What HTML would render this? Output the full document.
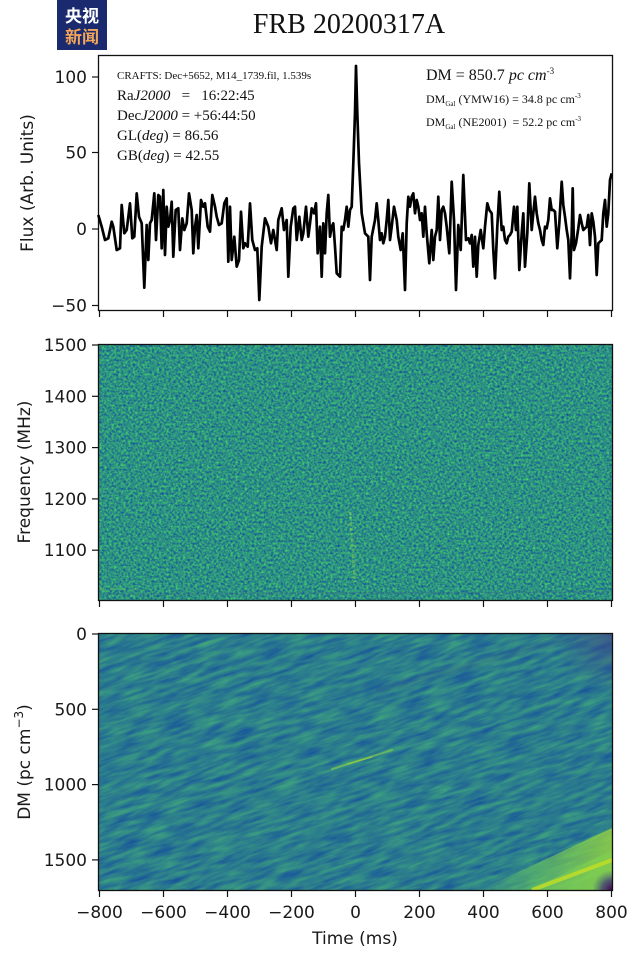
<!DOCTYPE html>
<html><head><meta charset="utf-8"><style>
html,body{margin:0;padding:0;background:#fff;width:640px;height:957px;overflow:hidden;}
svg{display:block;}
.t{font-family:"DejaVu Sans","Liberation Sans",sans-serif;font-size:17px;fill:#1a1a1a;}
.s{font-family:"Liberation Serif","DejaVu Serif",serif;fill:#111;white-space:pre;}
</style></head><body>
<svg width="640" height="957" viewBox="0 0 640 957" xmlns="http://www.w3.org/2000/svg" overflow="hidden">
<defs>
  <filter id="f2" x="0" y="0" width="100%" height="100%" color-interpolation-filters="sRGB">
    <feTurbulence type="fractalNoise" baseFrequency="0.42" numOctaves="2" seed="7" result="n"/>
    <feColorMatrix in="n" type="matrix" values="0.3 0 0 0 0.025  0.75 0 0 0 0.195  -0.3 0 0 0 0.66  0 0 0 0 1"/>
  </filter>
  <filter id="f3" x="0" y="0" width="100%" height="100%" color-interpolation-filters="sRGB">
    <feTurbulence type="fractalNoise" baseFrequency="0.035 0.22" numOctaves="3" seed="3" result="n"/>
    <feColorMatrix in="n" type="matrix" values="0.2 0 0 0 0.07  0.4 0 0 0 0.29  -0.15 0 0 0 0.625  0 0 0 0 1"/>
  </filter>
  <pattern id="p3" patternUnits="userSpaceOnUse" x="-300" y="200" width="1300" height="1300" patternTransform="rotate(-19 355 762)">
    <rect x="-300" y="200" width="1300" height="1300" fill="#2a7b8e" filter="url(#f3)"/>
  </pattern>
  <clipPath id="c2"><rect x="99" y="345" width="513" height="255"/></clipPath>
  <clipPath id="c3"><rect x="99" y="634" width="513" height="256"/></clipPath>
  <linearGradient id="wedge" x1="0" y1="0" x2="1" y2="0">
    <stop offset="0" stop-color="#5ec962" stop-opacity="0.1"/>
    <stop offset="0.4" stop-color="#6ccd5a" stop-opacity="0.7"/>
    <stop offset="1" stop-color="#a0da39" stop-opacity="0.95"/>
  </linearGradient>
  <radialGradient id="corner" cx="612" cy="890" r="20" gradientUnits="userSpaceOnUse">
    <stop offset="0" stop-color="#440154"/>
    <stop offset="0.5" stop-color="#3b2a7a" stop-opacity="0.7"/>
    <stop offset="1" stop-color="#3b528b" stop-opacity="0"/>
  </radialGradient>
  <radialGradient id="corner2" cx="612" cy="634" r="60" gradientUnits="userSpaceOnUse">
    <stop offset="0" stop-color="#3e4a8a" stop-opacity="0.75"/>
    <stop offset="1" stop-color="#3b528b" stop-opacity="0"/>
  </radialGradient>
</defs>

<!-- Logo -->
<rect x="57" y="0" width="50" height="50" fill="#1b2a6e"/>
<text x="82" y="22" text-anchor="middle" font-family="'Noto Sans CJK SC','WenQuanYi Zen Hei',sans-serif" font-weight="bold" font-size="17" fill="#ffffff">央视</text>
<text x="82" y="43" text-anchor="middle" font-family="'Noto Sans CJK SC','WenQuanYi Zen Hei',sans-serif" font-weight="bold" font-size="17" fill="#f2a65a">新闻</text>

<!-- Title -->
<text x="349" y="33" text-anchor="middle" class="s" font-size="28">FRB 20200317A</text>

<!-- ===== Panel 1 ===== -->
<rect x="98.5" y="55.5" width="514" height="255" fill="#fff" stroke="#111" stroke-width="1.3"/>
<text class="s" x="117" y="79" font-size="11" xml:space="preserve">CRAFTS: Dec+5652, M14_1739.fil, 1.539s</text>
<text class="s" x="117" y="100" font-size="15" xml:space="preserve">Ra<tspan font-style="italic">J2000</tspan>   =   16:22:45</text>
<text class="s" x="117" y="120" font-size="15" xml:space="preserve">Dec<tspan font-style="italic">J2000</tspan> = +56:44:50</text>
<text class="s" x="117" y="140" font-size="15" xml:space="preserve">GL(<tspan font-style="italic">deg</tspan>) = 86.56</text>
<text class="s" x="117" y="160" font-size="15" xml:space="preserve">GB(<tspan font-style="italic">deg</tspan>) = 42.55</text>
<text class="s" x="426" y="80" font-size="16" xml:space="preserve">DM = 850.7 <tspan font-style="italic">pc cm</tspan><tspan font-size="9" dy="-6">-3</tspan></text>
<text class="s" x="426" y="103" font-size="12" xml:space="preserve">DM<tspan font-size="7" dy="3">Gal</tspan><tspan dy="-3"> (YMW16) = 34.8 pc cm</tspan><tspan font-size="7" dy="-5">-3</tspan></text>
<text class="s" x="426" y="126" font-size="12" xml:space="preserve">DM<tspan font-size="7" dy="3">Gal</tspan><tspan dy="-3"> (NE2001)  = 52.2 pc cm</tspan><tspan font-size="7" dy="-5">-3</tspan></text>

<polyline fill="none" stroke="#000" stroke-width="2.7" stroke-linejoin="round" points="
98.3,215 101.7,226.7 105,240 108.3,238.3 111.7,221.7 113.3,226.7 116.7,250 120,248.3 121.7,205 124.3,233.3 126.7,230 130,203.3 132.3,238.3 134.3,236.7 136.7,193.3 139,216.7 141.7,223.3 144.3,287.7 146.7,225 148.3,260 150,223.3 151.7,220 154.3,193.3 156,240 158.3,195 160,196.7 161.7,248.3 163.3,190 165,255 166.7,206.7 168.3,226.7 170,220 171.7,201.7 173.3,256.7 175.7,210 178.3,208.3 180,250 182.3,218.3 184.3,230 186.7,223.3 189,193.3 191.7,210 193.3,253.3 195,226.7 196.7,215 198.3,248.3 201,200 203.3,206.7 205,203.3 207.7,226.7 210,231.7 212.3,195 215,206.7 216.7,216.7 219,225 221.7,223.3 224.3,203.3 226.7,198.3 228.3,261.7 230,206.7 231.7,260 234.3,236.7 236.7,266.7 239,260 241,211.7 243.3,248.3 245,243.3 247.7,246.7 250,203.3 252.3,240 255,250 257.3,248.3 259.3,300 261.7,246.7 265,218.3 268.3,226.7 271,243.3 273.3,230 276.7,250 278.3,220 281.7,208.3 284,230 286.7,220 288.3,276.7 290.7,226.7 293.3,208.3 295,206.7 296.7,240 299.3,216.7 301.7,240 303.3,233.3 306,206.7 308.3,236.7 310,223.3 311.7,208.3 314,213.3 316,203.3 317.7,253.3 320,226.7 321.7,276.7 323.3,223.3 325,253.3 326.7,213.3 328.3,195 330,236.7 331.7,226.7 333.3,223.3 335,246.7 336.7,273.3 340,276.7 341.7,226.7 343.3,230 345,220 346.7,206.7 348.3,226.7 350,210 351.7,206.7 353.3,163.3 355,113 356,66 357.3,113 359,163 361.7,213.3 365,233.3 368.3,236.7 370,280 371.7,236.7 375,220 376.7,203.3 378.3,220 380,240 381.7,233.3 383.3,243.3 385,236.7 386.7,220 388.3,200 390,240 391.7,226.7 394,206.7 396.7,220 398.3,236.7 400.7,250 402.7,233.3 405,290 406.7,223.3 408.3,196.7 410,206.7 411.7,196.7 413.3,193.3 415,213.3 416.7,200 418.3,206.7 420,220 421.7,213.3 423.3,236.7 425,206.7 426.7,233.3 429.3,263.3 431.7,230 433.3,260 435,236.7 436.7,230 438.3,196.7 440,240 441.7,210 443.3,206.7 445,213.3 446.7,226.7 449.3,253.3 451.7,181.7 454,220 456,290 458.3,225 460.7,250 463.3,175 466,240 468.3,238.3 470,243.3 471.7,235 473.3,266.7 475,236.7 476.7,276.7 478.3,245 480.7,230 483.3,248.3 485,226.7 487.3,203.3 489.3,210 491.7,213.3 493.3,250 495,278.3 497.3,226.7 499.3,191.7 501.7,230 503.3,226.7 505,240 506.7,243.3 508.3,236.7 510,235 511.7,231.7 514,206.7 516,230 517.3,206.7 519.3,270 521.7,233.3 523.3,213.3 525,266.7 527.3,233.3 529.3,183.3 531.7,230 533.3,213.3 535,196.7 536.7,213.3 538.3,223.3 540,230 541.7,240 543.3,245 545,226.7 546.7,228.3 548.3,220 550,198.3 551.7,210 553.3,210 555,211.7 557.3,248.3 559.3,223.3 561.7,181.7 563.3,205 565,216.7 566.7,230 568.3,240 570,278.3 571.7,233.3 572.7,188.3 574,250 576,243.3 578.3,228.3 580,215 581.7,223.3 583.3,230 585,228.3 586.7,226.7 588.3,215 590,245 591.7,213.3 593.3,221.7 595,236.7 596.7,275 598.3,243.3 600,241.7 601.7,240 603.3,213.3 605,200 606.7,226.7 608.3,213.3 610,180 611.7,173.3"/>

<!-- panel1 ticks -->
<g stroke="#111" stroke-width="1.2">
  <line x1="92" y1="77" x2="98" y2="77"/>
  <line x1="92" y1="152.5" x2="98" y2="152.5"/>
  <line x1="92" y1="229" x2="98" y2="229"/>
  <line x1="92" y1="305.5" x2="98" y2="305.5"/>
  <line x1="99.5" y1="311" x2="99.5" y2="317"/>
  <line x1="163.5" y1="311" x2="163.5" y2="317"/>
  <line x1="227.5" y1="311" x2="227.5" y2="317"/>
  <line x1="291.5" y1="311" x2="291.5" y2="317"/>
  <line x1="355.5" y1="311" x2="355.5" y2="317"/>
  <line x1="419.5" y1="311" x2="419.5" y2="317"/>
  <line x1="483.5" y1="311" x2="483.5" y2="317"/>
  <line x1="547.5" y1="311" x2="547.5" y2="317"/>
  <line x1="611.5" y1="311" x2="611.5" y2="317"/>
</g>
<g class="t" text-anchor="end">
  <text x="87" y="83">100</text>
  <text x="87" y="158.5">50</text>
  <text x="87" y="235">0</text>
  <text x="87" y="311.5">−50</text>
</g>
<text class="t" transform="translate(33,183) rotate(-90)" text-anchor="middle">Flux (Arb. Units)</text>

<!-- ===== Panel 2 ===== -->
<g clip-path="url(#c2)">
  <rect x="99" y="345" width="513" height="255" fill="#26828e" filter="url(#f2)"/>
  <line x1="350" y1="512" x2="355" y2="582" stroke="#8ed64a" stroke-width="2.5" stroke-opacity="0.5" stroke-dasharray="3 2 2 3 4 2"/>
  <line x1="100" y1="589" x2="140" y2="589" stroke="#7ad151" stroke-width="1.5" stroke-opacity="0.45" stroke-dasharray="6 4"/>
  <line x1="100" y1="594" x2="612" y2="592" stroke="#35608d" stroke-width="1.5" stroke-opacity="0.3"/>
</g>
<rect x="98.5" y="344.5" width="514" height="256" fill="none" stroke="#111" stroke-width="1.3"/>
<g stroke="#111" stroke-width="1.2">
  <line x1="92" y1="345" x2="98" y2="345"/>
  <line x1="92" y1="396.3" x2="98" y2="396.3"/>
  <line x1="92" y1="447.6" x2="98" y2="447.6"/>
  <line x1="92" y1="498.9" x2="98" y2="498.9"/>
  <line x1="92" y1="550.2" x2="98" y2="550.2"/>
  <line x1="99.5" y1="601" x2="99.5" y2="607"/>
  <line x1="163.5" y1="601" x2="163.5" y2="607"/>
  <line x1="227.5" y1="601" x2="227.5" y2="607"/>
  <line x1="291.5" y1="601" x2="291.5" y2="607"/>
  <line x1="355.5" y1="601" x2="355.5" y2="607"/>
  <line x1="419.5" y1="601" x2="419.5" y2="607"/>
  <line x1="483.5" y1="601" x2="483.5" y2="607"/>
  <line x1="547.5" y1="601" x2="547.5" y2="607"/>
  <line x1="611.5" y1="601" x2="611.5" y2="607"/>
</g>
<g class="t" text-anchor="end">
  <text x="87" y="351">1500</text>
  <text x="87" y="402.3">1400</text>
  <text x="87" y="453.6">1300</text>
  <text x="87" y="504.9">1200</text>
  <text x="87" y="556.2">1100</text>
</g>
<text class="t" transform="translate(30,472) rotate(-90)" text-anchor="middle">Frequency (MHz)</text>

<!-- ===== Panel 3 ===== -->
<g clip-path="url(#c3)">
  <rect x="99" y="634" width="513" height="256" fill="url(#p3)"/>
  <rect x="99" y="634" width="513" height="256" fill="url(#corner2)"/>
  <g stroke-linecap="round" fill="none">
    <line x1="250" y1="796" x2="470" y2="727" stroke="#4ab37a" stroke-width="3" stroke-opacity="0.22"/>
    <line x1="332" y1="769" x2="392" y2="750" stroke="#8fd744" stroke-width="2" stroke-opacity="0.55"/>
    <line x1="348" y1="764" x2="372" y2="757" stroke="#b5de2b" stroke-width="1.4" stroke-opacity="0.5"/>
    <line x1="100" y1="820" x2="300" y2="760" stroke="#4cb579" stroke-width="3" stroke-opacity="0.2"/>
    <line x1="150" y1="862" x2="420" y2="790" stroke="#4cb579" stroke-width="4" stroke-opacity="0.18"/>
    <line x1="100" y1="690" x2="260" y2="640" stroke="#4cb579" stroke-width="3" stroke-opacity="0.2"/>
    <line x1="380" y1="690" x2="560" y2="640" stroke="#35608d" stroke-width="8" stroke-opacity="0.18"/>
  </g>
  <polygon points="480,890 612,828 612,890" fill="url(#wedge)" opacity="0.8"/>
  <polygon points="530,890 612,850 612,890" fill="#7fd34e" opacity="0.5"/>
  <line x1="532" y1="890" x2="612" y2="860" stroke="#c8e020" stroke-width="4" stroke-opacity="0.75"/>
  <rect x="99" y="634" width="513" height="256" fill="url(#corner)"/>
</g>
<rect x="98.5" y="633.5" width="514" height="257" fill="none" stroke="#111" stroke-width="1.3"/>
<g stroke="#111" stroke-width="1.2">
  <line x1="92" y1="634" x2="98" y2="634"/>
  <line x1="92" y1="709.3" x2="98" y2="709.3"/>
  <line x1="92" y1="784.6" x2="98" y2="784.6"/>
  <line x1="92" y1="859.9" x2="98" y2="859.9"/>
  <line x1="99.5" y1="891" x2="99.5" y2="897"/>
  <line x1="163.5" y1="891" x2="163.5" y2="897"/>
  <line x1="227.5" y1="891" x2="227.5" y2="897"/>
  <line x1="291.5" y1="891" x2="291.5" y2="897"/>
  <line x1="355.5" y1="891" x2="355.5" y2="897"/>
  <line x1="419.5" y1="891" x2="419.5" y2="897"/>
  <line x1="483.5" y1="891" x2="483.5" y2="897"/>
  <line x1="547.5" y1="891" x2="547.5" y2="897"/>
  <line x1="611.5" y1="891" x2="611.5" y2="897"/>
</g>
<g class="t" text-anchor="end">
  <text x="87" y="640">0</text>
  <text x="87" y="715.3">500</text>
  <text x="87" y="790.6">1000</text>
  <text x="87" y="865.9">1500</text>
</g>
<text class="t" transform="translate(30,762) rotate(-90)" text-anchor="middle">DM (pc cm<tspan font-size="12" dy="-7">−3</tspan><tspan dy="7">)</tspan></text>

<g class="t" text-anchor="middle">
  <text x="99.5" y="918">−800</text>
  <text x="163.5" y="918">−600</text>
  <text x="227.5" y="918">−400</text>
  <text x="291.5" y="918">−200</text>
  <text x="355.5" y="918">0</text>
  <text x="419.5" y="918">200</text>
  <text x="483.5" y="918">400</text>
  <text x="547.5" y="918">600</text>
  <text x="611.5" y="918">800</text>
</g>
<text class="t" x="355" y="944" text-anchor="middle">Time (ms)</text>
</svg>
</body></html>
